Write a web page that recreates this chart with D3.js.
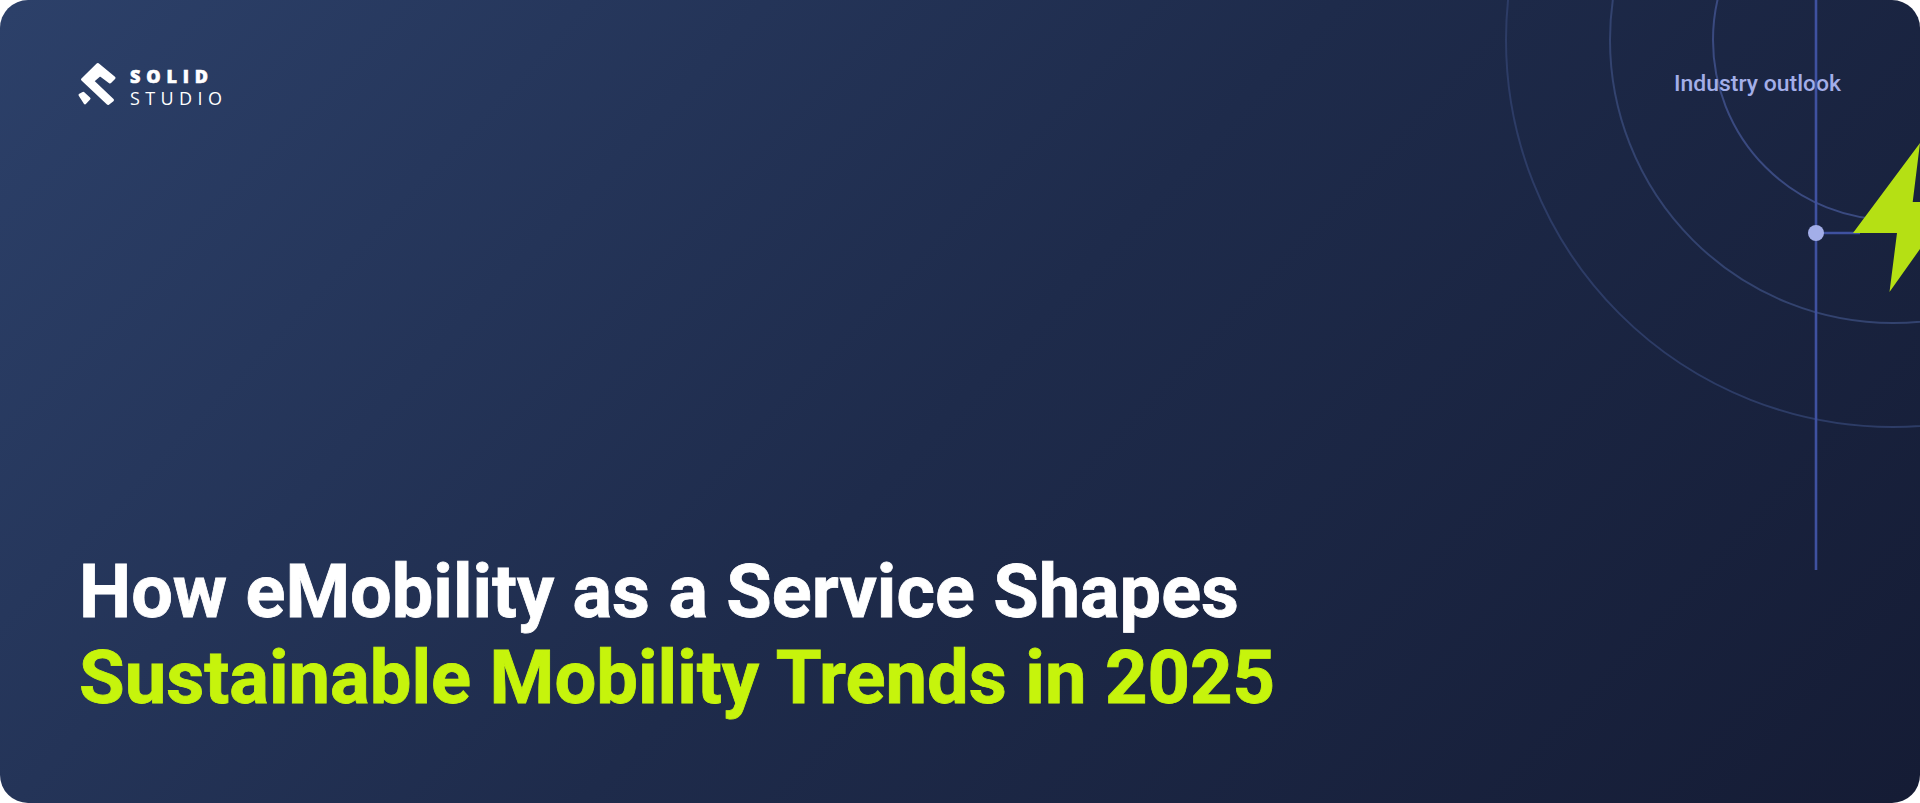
<!DOCTYPE html>
<html>
<head>
<meta charset="utf-8">
<script src="https://cdn.jsdelivr.net/npm/d3@7"></script>
<style>
  html, body { margin: 0; padding: 0; background: #fff; overflow: hidden; }
  svg { display: block; }
</style>
</head>
<body>
<div id="banner"></div>
<script>
// D3 Script

const WIDTH = 1920;
const HEIGHT = 803;
const CORNER = 28;

// content
const titleLines = ['How eMobility as a Service Shapes', 'Sustainable Mobility Trends in 2025'];
const titleColors = ['#ffffff', '#c6f40c'];
const titleWidth = [1160, 1196];
const brandWords = ['SOLID', 'STUDIO'];
const tagline = ['Industry outlook'];
const rings = [1, 2, 3];
const ringRadius = [180, 283, 387];

const svg = d3.select('#banner')
  .append('svg')
    .attr('width', WIDTH)
    .attr('height', HEIGHT);

const gradient = svg.append('defs')
  .append('linearGradient')
    .attr('id', 'bg')
    .attr('gradientUnits', 'userSpaceOnUse')
    .attr('x1', 260).attr('y1', -260)
    .attr('x2', 1660).attr('y2', 1060);

gradient.selectAll('stop')
  .data([[0, '#2c4069'], [0.5, '#1e2b4b'], [1, '#151c35']])
  .enter().append('stop')
    .attr('offset', d => d[0])
    .attr('stop-color', d => d[1]);

svg.append('clipPath').attr('id', 'card')
  .append('rect')
    .attr('width', WIDTH)
    .attr('height', HEIGHT)
    .attr('rx', CORNER);

const card = svg.append('g').attr('clip-path', 'url(#card)');

card.append('rect')
  .attr('width', WIDTH)
  .attr('height', HEIGHT)
  .attr('fill', 'url(#bg)');

// rings
const r = d3.scaleOrdinal().domain(rings).range(ringRadius);

card.selectAll('.ring')
  .data(rings)
  .enter().append('circle')
    .attr('class', 'ring')
    .attr('cx', 1893)
    .attr('cy', 40)
    .attr('r', d => r(d))
    .attr('fill', 'none')
    .attr('stroke', d => d === 1 ? '#3a4a80' : d === 2 ? '#33436f' : '#2d3c66')
    .attr('stroke-width', 2);

// label sits under the vertical line
card.selectAll('.tag')
  .data(tagline)
  .enter().append('text')
    .attr('class', 'tag')
    .attr('x', 1674)
    .attr('y', 91)
    .attr('textLength', 167)
    .attr('lengthAdjust', 'spacingAndGlyphs')
    .style('font-family', 'Roboto')
    .style('font-weight', 500)
    .style('font-size', '21.5px')
    .style('fill', '#a3aee8')
    .text(d => d);

card.append('line')
  .attr('x1', 1816).attr('y1', 0)
  .attr('x2', 1816).attr('y2', 570)
  .attr('stroke', '#3f51a0')
  .attr('stroke-width', 2.6);

card.append('line')
  .attr('x1', 1816).attr('y1', 233)
  .attr('x2', 1860).attr('y2', 233)
  .attr('stroke', '#3f51a0')
  .attr('stroke-width', 2.6);

card.append('path')
  .attr('d', 'M1920,143L1853,233L1897,233L1889.5,292L1920,249L1925,202L1912.7,202Z')
  .attr('fill', '#b5e014');

card.append('circle')
  .attr('cx', 1816)
  .attr('cy', 233)
  .attr('r', 8)
  .attr('fill', '#a3aee8');

// logo mark
const logo = card.append('g')
  .attr('fill', '#fff')
  .attr('stroke', '#fff')
  .attr('stroke-width', 3)
  .attr('stroke-linejoin', 'round');

logo.append('path')
  .attr('d', 'M97.7,64.5L114,78L110,82L100,74.5L92.5,81L112.5,100L108,103.5L82.5,79.5Z');

logo.append('path')
  .attr('d', 'M80,95L83.3,93.3L89,98.5L85,102.8Z');

card.selectAll('.brand')
  .data(brandWords)
  .enter().append('text')
    .attr('class', 'brand')
    .attr('x', 130)
    .attr('y', (d, i) => i === 0 ? 83 : 105)
    .attr('textLength', (d, i) => i === 0 ? 78 : 92)
    .attr('lengthAdjust', 'spacing')
    .style('font-family', 'Open Sans')
    .style('font-weight', (d, i) => i === 0 ? 800 : 400)
    .style('font-size', '18px')
    .style('fill', '#fff')
    .style('stroke', (d, i) => i === 0 ? '#fff' : 'none')
    .style('stroke-width', 0.6)
    .text(d => d);

// title
card.selectAll('.title')
  .data(titleLines)
  .enter().append('text')
    .attr('class', 'title')
    .attr('x', 79)
    .attr('y', (d, i) => i === 0 ? 617 : 703)
    .attr('textLength', (d, i) => titleWidth[i])
    .attr('lengthAdjust', 'spacingAndGlyphs')
    .style('font-family', 'Roboto')
    .style('font-weight', 700)
    .style('font-size', '74px')
    .style('fill', (d, i) => titleColors[i])
    .style('stroke', (d, i) => titleColors[i])
    .style('stroke-width', 0.8)
    .text(d => d);
</script>
</body>
</html>
